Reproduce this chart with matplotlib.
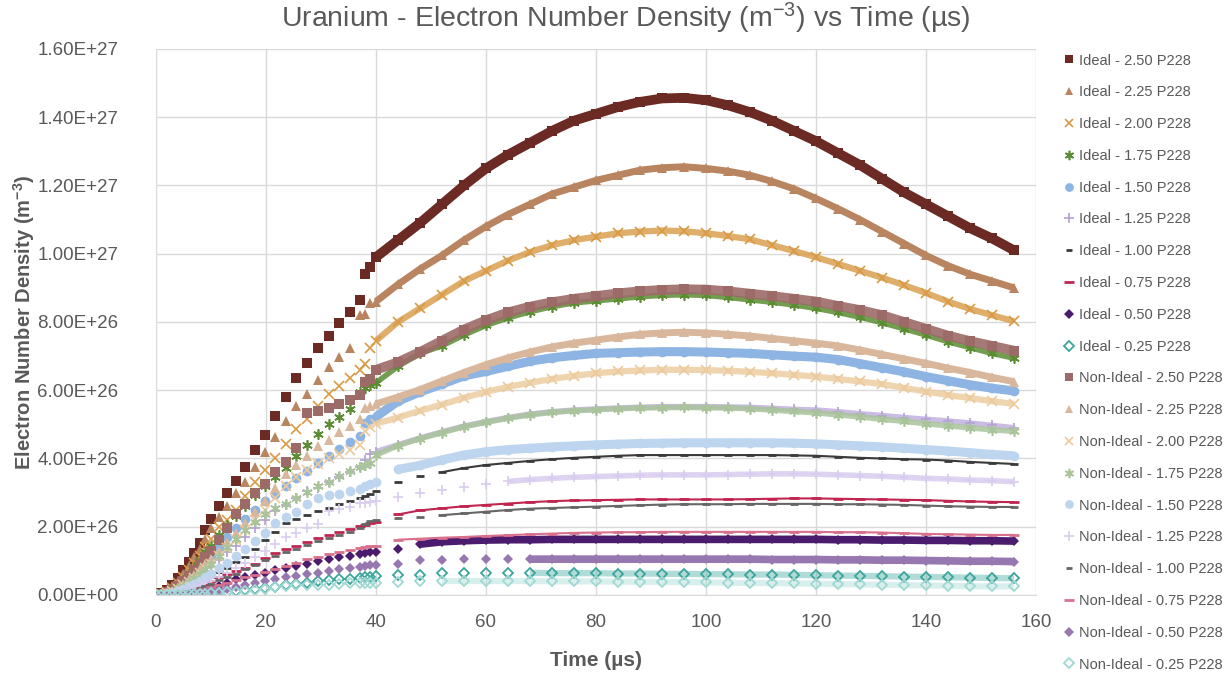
import matplotlib
matplotlib.use('Agg')
import matplotlib.pyplot as plt
from matplotlib.ticker import FuncFormatter, MultipleLocator

plt.rcParams['font.family'] = ['Liberation Sans', 'DejaVu Sans']
plt.rcParams['mathtext.default'] = 'regular'

# Electron number density in units of 1e26 m^-3.
# Sparse output (before ~40 us) and the dense output (every 4 us read).
t_early = [0, 1, 2, 3, 4, 5, 6, 7, 8, 9, 10, 11.5, 13, 14.5, 16.2, 18, 19.8, 21.7,
           23.6, 25.5, 27.5, 29.5, 31.4, 33.3, 35.2, 37.1, 38.0, 39.0]
t_late = [40, 44, 48, 52, 56, 60, 64, 68, 72, 76, 80, 84, 88, 92, 96, 100, 104, 108,
          112, 116, 120, 124, 128, 132, 136, 140, 144, 148, 152, 156]

ideal_250_early = [0, 0.05, 0.15, 0.3, 0.5, 0.72, 0.97, 1.23, 1.53, 1.9, 2.22, 2.6, 3.0, 3.35,
                   3.75, 4.25, 4.7, 5.25, 5.8, 6.35, 6.8, 7.25, 7.6, 7.98, 8.3, 8.65, 9.4, 9.6]
ideal_250_late = [9.9, 10.4, 10.9, 11.45, 12.0, 12.5, 12.9, 13.25, 13.6, 13.9, 14.1, 14.3, 14.45,
                  14.55, 14.57, 14.5, 14.35, 14.15, 13.9, 13.6, 13.3, 12.95, 12.6, 12.2, 11.8,
                  11.45, 11.1, 10.75, 10.45, 10.1]
ideal_225_early = [0, 0.04, 0.12, 0.25, 0.42, 0.62, 0.85, 1.1, 1.35, 1.65, 1.95, 2.3, 2.62, 3.0,
                   3.32, 3.74, 4.18, 4.64, 5.1, 5.53, 5.88, 6.3, 6.68, 6.98, 7.25, 8.2, 8.23, 8.55]
ideal_225_late = [8.6, 9.1, 9.55, 9.95, 10.4, 10.8, 11.15, 11.45, 11.75, 11.95, 12.15, 12.3, 12.45,
                  12.52, 12.55, 12.5, 12.42, 12.3, 12.12, 11.9, 11.62, 11.32, 11.0, 10.65, 10.3,
                  9.95, 9.65, 9.4, 9.2, 9.0]
ideal_200_early = [0, 0.03, 0.1, 0.2, 0.35, 0.52, 0.72, 0.93, 1.15, 1.4, 1.65, 1.98, 2.2, 2.49,
                   2.9, 3.3, 3.65, 4.02, 4.43, 4.85, 5.15, 5.55, 5.88, 6.12, 6.35, 6.6, 6.77, 7.25]
ideal_200_late = [7.45, 8.0, 8.4, 8.8, 9.2, 9.5, 9.8, 10.05, 10.25, 10.4, 10.5, 10.6, 10.65, 10.68,
                  10.66, 10.6, 10.52, 10.42, 10.25, 10.08, 9.9, 9.7, 9.5, 9.3, 9.08, 8.85, 8.6,
                  8.38, 8.2, 8.02]
ideal_175_early = [0, 0.03, 0.09, 0.18, 0.3, 0.45, 0.62, 0.82, 1.02, 1.25, 1.45, 1.75, 2.05, 2.32,
                   2.62, 2.92, 3.18, 3.45, 3.72, 4.08, 4.4, 4.72, 5.0, 5.22, 5.45, 5.96, 6.08, 6.15]
ideal_175_late = [6.22, 6.7, 7.08, 7.3, 7.62, 7.9, 8.12, 8.3, 8.45, 8.56, 8.62, 8.68, 8.74, 8.78,
                  8.8, 8.78, 8.72, 8.65, 8.58, 8.5, 8.4, 8.28, 8.14, 7.98, 7.8, 7.62, 7.42, 7.25,
                  7.08, 6.94]
ideal_150_early = [0, 0.02, 0.07, 0.14, 0.24, 0.36, 0.5, 0.65, 0.82, 0.98, 1.15, 1.42, 1.7, 1.95,
                   2.22, 2.5, 2.75, 2.95, 3.18, 3.42, 3.62, 3.86, 4.06, 4.28, 4.48, 4.66, 5.05, 5.15]
ideal_150_late = [5.22, 5.68, 5.95, 6.18, 6.42, 6.55, 6.7, 6.85, 6.95, 7.02, 7.08, 7.1, 7.12, 7.13,
                  7.13, 7.12, 7.1, 7.08, 7.04, 7.0, 6.97, 6.9, 6.78, 6.66, 6.54, 6.4, 6.28, 6.16,
                  6.06, 5.98]
ideal_125_early = [0, 0.01, 0.04, 0.09, 0.16, 0.24, 0.34, 0.45, 0.57, 0.7, 0.83, 1.03, 1.25, 1.45,
                   1.7, 1.95, 2.2, 2.45, 2.65, 2.85, 3.05, 3.15, 3.3, 3.45, 3.6, 3.75, 3.95, 4.12]
ideal_125_late = [4.2, 4.4, 4.6, 4.78, 4.95, 5.08, 5.2, 5.3, 5.37, 5.42, 5.45, 5.48, 5.5, 5.52,
                  5.52, 5.52, 5.51, 5.5, 5.47, 5.44, 5.42, 5.37, 5.31, 5.26, 5.2, 5.15, 5.1, 5.04,
                  4.97, 4.9]
ideal_100_early = [0, 0.01, 0.03, 0.06, 0.1, 0.15, 0.21, 0.28, 0.36, 0.44, 0.52, 0.66, 0.8, 0.96,
                   1.12, 1.35, 1.6, 1.85, 2.1, 2.22, 2.35, 2.45, 2.56, 2.66, 2.76, 2.83, 2.9, 2.95]
ideal_100_late = [3.05, 3.32, 3.5, 3.6, 3.72, 3.81, 3.87, 3.93, 3.98, 4.02, 4.05, 4.08, 4.1, 4.1,
                  4.1, 4.1, 4.1, 4.1, 4.1, 4.09, 4.08, 4.05, 4.02, 4.0, 3.98, 3.97, 3.94, 3.9,
                  3.87, 3.84]
ideal_075_early = [0, 0.01, 0.02, 0.04, 0.07, 0.1, 0.14, 0.18, 0.23, 0.3, 0.4, 0.52, 0.62, 0.7,
                   0.8, 0.92, 1.08, 1.22, 1.35, 1.45, 1.55, 1.68, 1.77, 1.86, 1.94, 2.02, 2.05, 2.1]
ideal_075_late = [2.13, 2.36, 2.48, 2.54, 2.6, 2.64, 2.68, 2.72, 2.75, 2.77, 2.78, 2.79, 2.8, 2.8,
                  2.8, 2.8, 2.8, 2.81, 2.82, 2.83, 2.83, 2.82, 2.81, 2.8, 2.79, 2.78, 2.76, 2.74,
                  2.73, 2.72]
ideal_050_early = [0, 0, 0.01, 0.02, 0.03, 0.05, 0.07, 0.09, 0.12, 0.16, 0.2, 0.27, 0.36, 0.46,
                   0.52, 0.58, 0.64, 0.72, 0.78, 0.84, 0.92, 0.99, 1.05, 1.1, 1.14, 1.19, 1.22, 1.25]
ideal_050_late = [1.27, 1.35, 1.49, 1.56, 1.59, 1.61, 1.62, 1.62, 1.63, 1.63, 1.63, 1.63, 1.63,
                  1.63, 1.63, 1.63, 1.63, 1.63, 1.63, 1.63, 1.63, 1.62, 1.62, 1.61, 1.61, 1.6,
                  1.6, 1.59, 1.59, 1.58]
ideal_025_early = [0, 0, 0, 0.005, 0.01, 0.015, 0.02, 0.03, 0.04, 0.05, 0.06, 0.08, 0.1, 0.12,
                   0.15, 0.18, 0.21, 0.24, 0.28, 0.32, 0.36, 0.4, 0.44, 0.46, 0.48, 0.5, 0.52, 0.54]
ideal_025_late = [0.55, 0.58, 0.6, 0.65, 0.65, 0.65, 0.65, 0.65, 0.64, 0.64, 0.64, 0.63, 0.63,
                  0.62, 0.62, 0.61, 0.61, 0.6, 0.6, 0.59, 0.58, 0.57, 0.56, 0.55, 0.54, 0.53,
                  0.52, 0.51, 0.5, 0.49]

nonideal_250_early = [0, 0.03, 0.08, 0.16, 0.27, 0.4, 0.55, 0.72, 0.9, 1.1, 1.3, 1.6, 1.95, 2.38,
                      2.68, 2.98, 3.25, 3.6, 3.9, 4.3, 5.32, 5.4, 5.48, 5.6, 5.72, 5.86, 6.25, 6.32]
nonideal_250_late = [6.6, 6.82, 7.12, 7.45, 7.78, 8.05, 8.28, 8.45, 8.58, 8.68, 8.76, 8.84, 8.9,
                     8.94, 8.96, 8.95, 8.9, 8.83, 8.76, 8.68, 8.6, 8.47, 8.35, 8.2, 8.0, 7.8, 7.6,
                     7.44, 7.3, 7.16]
nonideal_225_early = [0, 0.02, 0.06, 0.13, 0.22, 0.33, 0.46, 0.6, 0.75, 0.9, 1.06, 1.3, 1.55, 1.82,
                      2.1, 2.42, 2.75, 3.15, 3.55, 3.8, 4.08, 4.38, 4.55, 4.78, 4.95, 5.15, 5.47, 5.55]
nonideal_225_late = [5.6, 5.8, 6.02, 6.27, 6.52, 6.75, 6.95, 7.12, 7.27, 7.38, 7.47, 7.56, 7.64,
                     7.68, 7.7, 7.68, 7.64, 7.59, 7.52, 7.45, 7.38, 7.3, 7.18, 7.05, 6.92, 6.79,
                     6.65, 6.52, 6.38, 6.25]
nonideal_200_early = [0, 0.02, 0.05, 0.11, 0.19, 0.28, 0.39, 0.51, 0.64, 0.78, 0.92, 1.14, 1.37,
                      1.62, 1.9, 2.2, 2.5, 2.85, 3.2, 3.45, 3.65, 3.85, 4.0, 4.12, 4.25, 4.4, 4.8, 4.92]
nonideal_200_late = [5.02, 5.2, 5.4, 5.58, 5.78, 5.95, 6.1, 6.22, 6.33, 6.42, 6.5, 6.55, 6.58, 6.6,
                     6.6, 6.59, 6.57, 6.54, 6.5, 6.45, 6.4, 6.33, 6.26, 6.18, 6.07, 5.96, 5.86,
                     5.77, 5.68, 5.6]
nonideal_175_early = [0, 0.01, 0.05, 0.1, 0.18, 0.27, 0.38, 0.5, 0.63, 0.77, 0.92, 1.15, 1.4, 1.63,
                      1.9, 2.15, 2.38, 2.55, 2.67, 2.85, 3.02, 3.18, 3.32, 3.48, 3.62, 3.75, 3.82, 3.88]
nonideal_175_late = [4.1, 4.38, 4.58, 4.76, 4.93, 5.06, 5.18, 5.28, 5.35, 5.4, 5.43, 5.46, 5.48,
                     5.49, 5.5, 5.49, 5.48, 5.46, 5.42, 5.38, 5.34, 5.28, 5.22, 5.15, 5.09, 5.02,
                     4.96, 4.9, 4.84, 4.8]
nonideal_150_early = [0, 0.01, 0.03, 0.07, 0.12, 0.18, 0.25, 0.33, 0.42, 0.52, 0.62, 0.78, 0.95,
                      1.15, 1.35, 1.58, 1.82, 2.1, 2.3, 2.42, 2.67, 2.83, 2.92, 2.97, 3.04, 3.12, 3.18, 3.24]
nonideal_150_late = [3.3, 3.68, 3.8, 3.96, 4.1, 4.2, 4.26, 4.3, 4.34, 4.37, 4.4, 4.42, 4.44, 4.45,
                     4.46, 4.46, 4.46, 4.46, 4.46, 4.45, 4.43, 4.4, 4.37, 4.34, 4.3, 4.26, 4.22,
                     4.17, 4.12, 4.08]
nonideal_125_early = [0, 0.01, 0.02, 0.05, 0.08, 0.12, 0.17, 0.22, 0.28, 0.35, 0.42, 0.53, 0.65,
                      0.78, 0.93, 1.1, 1.3, 1.5, 1.7, 1.82, 1.96, 2.08, 2.45, 2.51, 2.57, 2.69, 2.7, 2.73]
nonideal_125_late = [2.74, 2.88, 2.99, 3.08, 3.17, 3.25, 3.33, 3.38, 3.42, 3.45, 3.47, 3.49, 3.51,
                     3.52, 3.52, 3.52, 3.53, 3.54, 3.55, 3.55, 3.54, 3.52, 3.5, 3.48, 3.45, 3.42,
                     3.4, 3.37, 3.35, 3.32]
nonideal_100_early = [0, 0.01, 0.02, 0.03, 0.05, 0.08, 0.11, 0.15, 0.2, 0.26, 0.33, 0.43, 0.53,
                      0.63, 0.75, 0.88, 1.02, 1.15, 1.26, 1.35, 1.47, 1.57, 1.68, 1.77, 1.86, 1.95, 2.08, 2.17]
nonideal_100_late = [2.2, 2.27, 2.3, 2.34, 2.39, 2.44, 2.49, 2.53, 2.55, 2.57, 2.59, 2.61, 2.63,
                     2.65, 2.66, 2.66, 2.66, 2.67, 2.67, 2.67, 2.67, 2.66, 2.66, 2.65, 2.64, 2.62,
                     2.6, 2.59, 2.58, 2.58]
nonideal_075_early = [0, 0, 0.01, 0.02, 0.04, 0.06, 0.08, 0.11, 0.14, 0.18, 0.22, 0.29, 0.36, 0.44,
                      0.52, 0.6, 0.68, 0.76, 0.85, 0.95, 1.05, 1.12, 1.2, 1.27, 1.33, 1.38, 1.4, 1.43]
nonideal_075_late = [1.45, 1.62, 1.65, 1.68, 1.7, 1.73, 1.75, 1.78, 1.8, 1.82, 1.83, 1.84, 1.84,
                     1.85, 1.85, 1.85, 1.85, 1.85, 1.85, 1.85, 1.85, 1.84, 1.84, 1.83, 1.81, 1.79,
                     1.78, 1.77, 1.76, 1.76]
nonideal_050_early = [0, 0, 0.005, 0.01, 0.02, 0.03, 0.04, 0.05, 0.07, 0.09, 0.11, 0.14, 0.18, 0.22,
                      0.28, 0.34, 0.4, 0.46, 0.52, 0.57, 0.61, 0.65, 0.71, 0.75, 0.79, 0.83, 0.85, 0.87]
nonideal_050_late = [0.88, 0.92, 1.04, 1.04, 1.05, 1.05, 1.05, 1.05, 1.05, 1.05, 1.05, 1.05, 1.05,
                     1.05, 1.05, 1.05, 1.05, 1.05, 1.04, 1.04, 1.04, 1.03, 1.03, 1.02, 1.02, 1.01,
                     1.0, 0.99, 0.99, 0.98]
nonideal_025_early = [0, 0, 0, 0.003, 0.006, 0.01, 0.015, 0.02, 0.03, 0.04, 0.05, 0.065, 0.08, 0.1,
                      0.12, 0.15, 0.18, 0.22, 0.26, 0.28, 0.29, 0.29, 0.3, 0.32, 0.34, 0.34, 0.34, 0.35]
nonideal_025_late = [0.36, 0.39, 0.4, 0.41, 0.41, 0.41, 0.41, 0.41, 0.4, 0.4, 0.4, 0.39, 0.39, 0.38,
                     0.38, 0.37, 0.36, 0.35, 0.35, 0.34, 0.33, 0.32, 0.31, 0.3, 0.29, 0.28, 0.27,
                     0.26, 0.25, 0.25]

labels = ['Ideal - 2.50 P228', 'Ideal - 2.25 P228', 'Ideal - 2.00 P228', 'Ideal - 1.75 P228',
          'Ideal - 1.50 P228', 'Ideal - 1.25 P228', 'Ideal - 1.00 P228', 'Ideal - 0.75 P228',
          'Ideal - 0.50 P228', 'Ideal - 0.25 P228',
          'Non-Ideal - 2.50 P228', 'Non-Ideal - 2.25 P228', 'Non-Ideal - 2.00 P228',
          'Non-Ideal - 1.75 P228', 'Non-Ideal - 1.50 P228', 'Non-Ideal - 1.25 P228',
          'Non-Ideal - 1.00 P228', 'Non-Ideal - 0.75 P228', 'Non-Ideal - 0.50 P228',
          'Non-Ideal - 0.25 P228']
early = [ideal_250_early, ideal_225_early, ideal_200_early, ideal_175_early, ideal_150_early,
         ideal_125_early, ideal_100_early, ideal_075_early, ideal_050_early, ideal_025_early,
         nonideal_250_early, nonideal_225_early, nonideal_200_early, nonideal_175_early,
         nonideal_150_early, nonideal_125_early, nonideal_100_early, nonideal_075_early,
         nonideal_050_early, nonideal_025_early]
late = [ideal_250_late, ideal_225_late, ideal_200_late, ideal_175_late, ideal_150_late,
        ideal_125_late, ideal_100_late, ideal_075_late, ideal_050_late, ideal_025_late,
        nonideal_250_late, nonideal_225_late, nonideal_200_late, nonideal_175_late,
        nonideal_150_late, nonideal_125_late, nonideal_100_late, nonideal_075_late,
        nonideal_050_late, nonideal_025_late]
# time from which the solver output becomes dense (markers merge into a band)
dense_from = [40, 40, 40, 40, 40, 40, 52, 44, 48, 68,
              40, 40, 40, 40, 44, 64, 52, 44, 68, 52]

# (colour, marker, marker size, filled, band width in pt, band alpha)
styles = [
    ('#6B2A24', 's', 6.5, True, 7.0, 1.0),
    ('#B98560', '^', 7.0, True, 5.0, 1.0),
    ('#D89A45', 'x', 6.5, True, 4.5, 0.8),
    ('#5B8C32', (6, 2, 0), 7.5, True, 4.0, 0.85),
    ('#8DB4E2', 'o', 7.0, True, 6.5, 1.0),
    ('#B4A0D8', '+', 7.5, True, 4.0, 0.7),
    ('#3A3A3A', '_', 5.5, True, 1.5, 1.0),
    ('#C0254F', '_', 7.5, True, 1.5, 1.0),
    ('#4B1C6E', 'D', 5.5, True, 5.5, 1.0),
    ('#3BA59B', 'D', 5.5, False, 4.5, 0.4),
    ('#9C6B67', 's', 6.5, True, 7.0, 0.9),
    ('#D9B79C', '^', 7.0, True, 5.0, 1.0),
    ('#ECCA9C', 'x', 6.5, True, 4.5, 0.8),
    ('#A9C49B', (6, 2, 0), 7.5, True, 4.0, 0.85),
    ('#BDD5EE', 'o', 7.0, True, 6.5, 1.0),
    ('#D9CCEE', '+', 7.5, True, 4.0, 0.85),
    ('#666666', '_', 5.5, True, 1.5, 1.0),
    ('#D9708C', '_', 7.5, True, 1.5, 1.0),
    ('#9777B0', 'D', 5.5, True, 5.5, 1.0),
    ('#A0D9D3', 'D', 5.5, False, 4.5, 0.4),
]

SCALE = 1e26
grey = '#595959'

fig = plt.figure(figsize=(12.32, 6.73), dpi=100)
ax = fig.add_axes([0.1266, 0.1159, 0.7143, 0.8113])

handles = []
for lab, ye, yl, t0, st in zip(labels, early, late, dense_from, styles):
    color, marker, ms, filled, bw, balpha = st
    kw = dict(linestyle='none', marker=marker, markersize=ms, color=color)
    if marker in ('x', '+', '_') or isinstance(marker, tuple):
        kw['markeredgewidth'] = 2.0 if marker == '_' else 1.2
    elif filled:
        kw['markeredgewidth'] = 0
    else:
        kw['markerfacecolor'] = 'none'
        kw['markeredgewidth'] = 1.3
    h, = ax.plot(t_early, [v * SCALE for v in ye], label=lab, **kw)
    handles.append(h)
    # dense part drawn as a band with the read values marked on it
    ts = [t for t in t_late if t >= t0]
    vs = [v * SCALE for t, v in zip(t_late, yl) if t >= t0]
    ax.plot(ts, vs, color=color, lw=bw, alpha=balpha, solid_capstyle='butt')
    ax.plot(t_late, [v * SCALE for v in yl], **kw)

ax.set_xlim(0, 160)
ax.set_ylim(0, 1.6e27)
ax.xaxis.set_major_locator(MultipleLocator(20))
ax.yaxis.set_major_locator(MultipleLocator(2e26))
ax.yaxis.set_major_formatter(FuncFormatter(lambda v, p: f'{v:.2E}'))
ax.grid(True, color='#D9D9D9', lw=1)
ax.set_axisbelow(True)
for s in ['top', 'right', 'left']:
    ax.spines[s].set_visible(False)
ax.spines['bottom'].set_color('#D9D9D9')
ax.tick_params(length=0, labelsize=13.5, colors=grey)
ax.tick_params(axis='y', pad=27)
ax.tick_params(axis='x', pad=14)

# the title is centred over the whole chart area, legend included
fig.text(0.508, 0.972, 'Uranium - Electron Number Density (m$^{-3}$) vs Time (µs)',
         fontsize=20.5, color=grey, ha='center', va='center')
ax.set_xlabel('Time (µs)', fontsize=15, color=grey, fontweight='bold', labelpad=14)
ax.set_ylabel('Electron Number Density (m$^{-3}$)', fontsize=14.5, color=grey,
              fontweight='bold', labelpad=0)

fig.legend(handles=handles, loc='upper left', bbox_to_anchor=(0.853, 0.94), frameon=False,
           fontsize=10.5, labelcolor=grey, handlelength=0.7, handletextpad=0.3,
           labelspacing=1.22, markerscale=0.9)

fig.savefig('out.png', dpi=100)
